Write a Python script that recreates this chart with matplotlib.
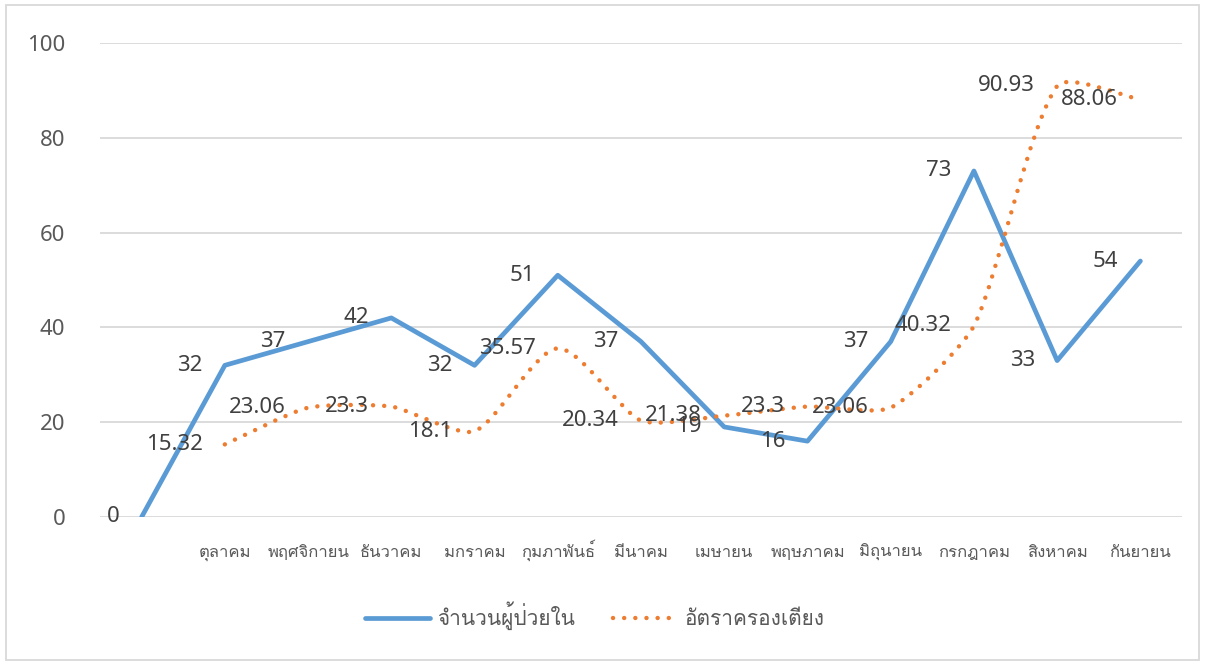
import matplotlib
matplotlib.use("Agg")
import matplotlib.pyplot as plt
import numpy as np
from matplotlib import font_manager
from matplotlib.path import Path
from matplotlib.patches import PathPatch, Rectangle
from matplotlib.lines import Line2D
from fontTools.ttLib import TTFont

months = ["", "ตุลาคม", "พฤศจิกายน", "ธันวาคม", "มกราคม", "กุมภาพันธ์", "มีนาคม",
          "เมษายน", "พฤษภาคม", "มิถุนายน", "กรกฎาคม", "สิงหาคม", "กันยายน"]
inpatients = [0, 32, 37, 42, 32, 51, 37, 19, 16, 37, 73, 33, 54]
occupancy = [None, 15.32, 23.06, 23.3, 18.1, 35.57, 20.34, 21.38, 23.3, 23.06, 40.32, 90.93, 88.06]
series_names = ["จำนวนผู้ป่วยใน", "อัตราครองเตียง"]


def find_thai_font():
    for f in font_manager.fontManager.ttflist:
        try:
            cmap = TTFont(f.fname, fontNumber=0, lazy=True).getBestCmap()
        except Exception:
            continue
        if cmap and 0x0E01 in cmap and 0x0E33 in cmap:
            return f.name
    return "DejaVu Sans"


thai = find_thai_font()
plt.rcParams["font.family"] = [thai, "DejaVu Sans"]
num_font = ["Noto Sans", "DejaVu Sans"]

blue = "#5B9BD5"
orange = "#ED7D31"
label_col = "#404040"
tick_col = "#595959"
dots = (0, (0.01, 2.5))

fig = plt.figure(figsize=(12.05, 6.64), dpi=100)
ax = fig.add_axes([100 / 1205, 1 - 517 / 664, 1082 / 1205, 474 / 664])
ax.set_xlim(-0.5, len(months) - 0.5)
ax.set_ylim(0, 100)

x = np.arange(len(months))
ax.plot(x, inpatients, color=blue, lw=3.4, solid_joinstyle="round",
        solid_capstyle="round", zorder=3)

# smoothed dotted line, Bezier through the data points (computed in pixel space)
ox = np.array([i for i, v in enumerate(occupancy) if v is not None], dtype=float)
oy = np.array([v for v in occupancy if v is not None], dtype=float)
fig.canvas.draw()
pts = ax.transData.transform(np.column_stack([ox, oy]))
verts = [pts[0]]
codes = [Path.MOVETO]
n = len(pts)
for i in range(n - 1):
    p0 = pts[max(i - 1, 0)]
    p1 = pts[i]
    p2 = pts[i + 1]
    p3 = pts[min(i + 2, n - 1)]
    d = np.hypot(*(p2 - p1))
    t1 = (p2 - p0) / 6
    t2 = (p3 - p1) / 6
    for t in (t1, t2):
        ln = np.hypot(*t)
        if ln > d / 5:
            t *= (d / 5) / ln
    verts += [p1 + t1, p2 - t2, p2]
    codes += [Path.CURVE4] * 3
verts = ax.transData.inverted().transform(np.array(verts))
patch = PathPatch(Path(verts, codes), fill=False, edgecolor=orange, lw=3.2,
                  linestyle=dots, capstyle="round", zorder=3)
ax.add_patch(patch)

for xi, v in zip(x, inpatients):
    ax.annotate(f"{v:g}", (xi, v), xytext=(-16, 0), textcoords="offset points",
                ha="right", va="center", fontsize=16, color=label_col,
                family=num_font, zorder=4)
for xi, v in zip(ox, oy):
    ax.annotate(f"{v:g}", (xi, v), xytext=(-16, 0), textcoords="offset points",
                ha="right", va="center", fontsize=16, color=label_col,
                family=num_font, zorder=4)

ax.set_yticks(range(0, 101, 20))
ax.set_xticks(x)
ax.set_xticklabels(months, va="baseline")
ax.tick_params(axis="x", length=0, pad=29, labelsize=12, labelcolor=tick_col)
ax.tick_params(axis="y", length=0, pad=25, labelsize=16, labelcolor=tick_col)
for lab in ax.get_yticklabels():
    lab.set_family(num_font)
ax.grid(axis="y", color="#D9D9D9", lw=1.3)
ax.set_axisbelow(True)
for s in ax.spines.values():
    s.set_visible(False)

handles = [Line2D([], [], color=blue, lw=3.4, solid_capstyle="round"),
           Line2D([], [], color=orange, lw=3.2, linestyle=dots, dash_capstyle="round")]
fig.legend(handles, series_names, loc="center", bbox_to_anchor=(595 / 1205, 1 - 616 / 664),
           ncol=2, frameon=False, fontsize=15, handlelength=3.1, columnspacing=1.8,
           handletextpad=0.35, labelcolor=tick_col)

fig.add_artist(Rectangle((6 / 1205, 4 / 664), 1193 / 1205, 655 / 664,
                         transform=fig.transFigure, fill=False,
                         edgecolor="#D9D9D9", lw=1.3))

fig.savefig("out.png", dpi=100)
